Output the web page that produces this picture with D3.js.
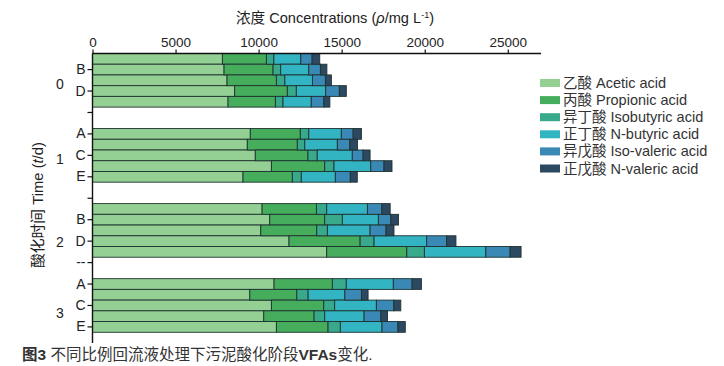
<!DOCTYPE html>
<html><head><meta charset="utf-8">
<script src="https://cdn.jsdelivr.net/npm/d3@7"></script>
<style>
html,body{margin:0;padding:0;background:#fff;}
svg{display:block;font-family:"Liberation Sans",Arial,"Noto Sans CJK SC",sans-serif;}
</style></head>
<body>
<svg id="chart" width="724" height="366"></svg>
<script>
// ---- data ----
const groups = ["0", "1", "2", "3"];
const samples = ["A", "B", "C", "D", "E"];
const seriesNames = ["乙酸 Acetic acid", "丙酸 Propionic acid", "异丁酸 Isobutyric acid", "正丁酸 N-butyric acid", "异戊酸 Iso-valeric acid", "正戊酸 N-valeric acid"];
const acetic     = [7820, 7920, 8100, 8560, 8160,  9500, 9320, 9800, 10770, 9060,  10210, 10670, 10130, 11830, 14100,  10930, 9470, 10770, 10310, 11070];
const propionic  = [2650, 2950, 2970, 3170, 2850,  3010, 3010, 3170, 3210, 2970,  3270, 3310, 3370, 4280, 4820,  3510, 2830, 3150, 3030, 3110];
const isobutyric = [450, 460, 510, 540, 460,  510, 450, 560, 560, 540,  620, 1060, 640, 840, 1060,  840, 680, 660, 640, 740];
const nbutyric   = [1620, 1690, 1660, 1770, 1700,  1960, 1960, 2110, 2210, 2050,  2450, 2170, 2570, 3170, 3700,  2830, 2210, 2510, 2370, 2510];
const isovaleric = [680, 700, 780, 820, 760,  710, 750, 650, 800, 900,  870, 750, 960, 1200, 1460,  1130, 1000, 1050, 1010, 960];
const nvaleric   = [460, 390, 360, 420, 360,  500, 460, 420, 480, 420,  500, 460, 480, 560, 660,  560, 400, 420, 400, 440];
const xTicks = [0, 5000, 10000, 15000, 20000, 25000];
const yTickLabels = ["B", "D", "", "A", "C", "E", "", "B", "D", "--", "A", "C", "E"];

// ---- layout / style ----
const colors = ["#94cf94", "#45ad5c", "#38a98a", "#32b4c2", "#3a88b6", "#2c4961"];
const svg = d3.select("#chart");
const nSlots = 27;
const x = d3.scaleLinear().domain([0, 27000]).range([92.5, 541]);
const y = d3.scaleBand().domain(d3.range(nSlots)).range([53.5, 343]).paddingInner(0).paddingOuter(0);

const series = [acetic, propionic, isobutyric, nbutyric, isovaleric, nvaleric];
const rows = [];
groups.forEach((g, gi) => samples.forEach((s, si) => {
  const idx = gi * 5 + si;
  const rec = {slot: gi * 7 + si};
  series.forEach((arr, k) => rec["k" + k] = arr[idx]);
  rows.push(rec);
}));
const keys = series.map((_, k) => "k" + k);
const stacked = d3.stack().keys(keys)(rows);

const gBars = svg.append("g");
stacked.forEach((layer, k) => {
  gBars.selectAll(null).data(layer).enter().append("rect")
    .attr("x", d => x(d[0]))
    .attr("y", d => y(d.data.slot))
    .attr("width", d => x(d[1]) - x(d[0]))
    .attr("height", y.bandwidth())
    .attr("fill", colors[k])
    .attr("stroke", "#1e3230")
    .attr("stroke-width", 0.9);
});

const FONT = "Liberation Sans, Arial, sans-serif";
// top x axis
const xAxis = svg.append("g").attr("transform", "translate(0,53.5)")
  .call(d3.axisTop(x).tickValues(xTicks).tickSize(4).tickPadding(3).tickFormat(d3.format("d")));
xAxis.select(".domain").attr("stroke", "#111").attr("stroke-width", 1.4).attr("d", `M${x(0)},0H${x(27000)}`);
xAxis.selectAll(".tick line").attr("stroke", "#111").attr("stroke-width", 1.2);
xAxis.selectAll(".tick text").attr("font-size", 13.5).attr("fill", "#222").attr("font-family", FONT);

// left y axis
const tickSlots = d3.range(1, 26, 2);
const yAxis = svg.append("g").attr("transform", `translate(${x(0)},0)`)
  .call(d3.axisLeft(y).tickValues(tickSlots).tickSize(5).tickPadding(2)
    .tickFormat((d, i) => yTickLabels[i]));
yAxis.select(".domain").attr("stroke", "#111").attr("stroke-width", 1.4).attr("d", `M0,53.5V343`);
yAxis.selectAll(".tick line").attr("stroke", "#111").attr("stroke-width", 1.2);
yAxis.selectAll(".tick text").attr("font-size", 14).attr("fill", "#222").attr("font-family", FONT);

// group labels
const groupLabelSlot = [2.85, 9.85, 17.6, 24.2];
svg.append("g").selectAll("text").data(groups).enter().append("text")
  .attr("x", 60)
  .attr("y", (d, i) => y(0) + y.step() * groupLabelSlot[i])
  .attr("dy", "0.35em")
  .attr("text-anchor", "middle")
  .attr("font-size", 14).attr("fill", "#222")
  .text(d => d);

// axis titles
const xt = svg.append("text").attr("x", 335).attr("y", 23).attr("text-anchor", "middle")
  .attr("font-size", 14.6).attr("fill", "#222");
xt.append("tspan").text("浓度 Concentrations (");
xt.append("tspan").attr("font-style", "italic").text("ρ");
xt.append("tspan").text("/mg L");
xt.append("tspan").attr("font-size", 9).attr("dy", -5).text("-1");
xt.append("tspan").attr("dy", 5).text(")");

const yt = svg.append("text").attr("transform", "translate(43,205) rotate(-90)")
  .attr("text-anchor", "middle").attr("font-size", 14.8).attr("fill", "#222");
yt.append("tspan").text("酸化时间 Time (");
yt.append("tspan").attr("font-style", "italic").text("t");
yt.append("tspan").text("/d)");

// legend
const lg = svg.append("g").attr("transform", "translate(540,83)");
seriesNames.forEach((name, i) => {
  const row = lg.append("g").attr("transform", `translate(0,${i * 17.1})`);
  row.append("rect").attr("x", 0).attr("y", -4).attr("width", 20).attr("height", 8).attr("fill", colors[i]);
  row.append("text").attr("x", 23).attr("y", 0).attr("dy", "0.35em")
    .attr("font-size", 14.5).attr("fill", "#333").text(name);
});

// caption
const cap = svg.append("text").attr("x", 22).attr("y", 360).attr("font-size", 15.5).attr("fill", "#333");
cap.append("tspan").attr("font-weight", "bold").text("图3");
cap.append("tspan").text(" 不同比例回流液处理下污泥酸化阶段");
cap.append("tspan").attr("font-weight", "bold").text("VFAs");
cap.append("tspan").text("变化.");
</script>
</body></html>
